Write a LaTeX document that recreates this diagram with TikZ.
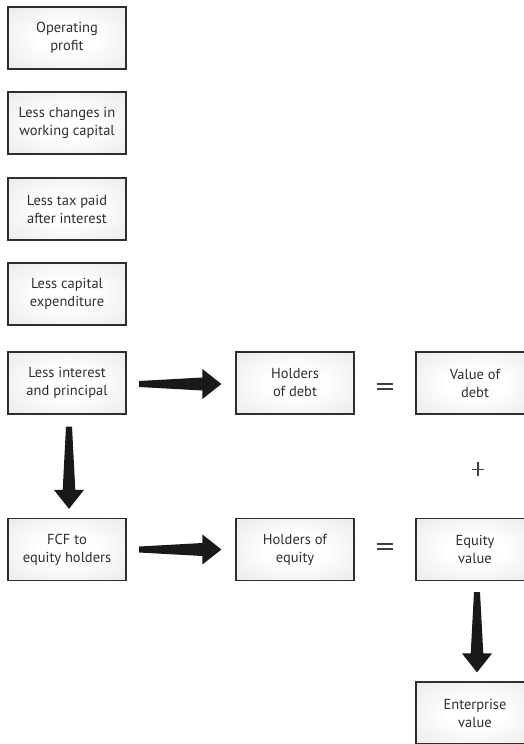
\documentclass[tikz,border=0pt]{standalone}
\usepackage{fontspec}
\setmainfont{PT Sans}
\usetikzlibrary{calc}

% soft glow used to fill the boxes
\pgfdeclareradialshading{boxglow}{\pgfpoint{0bp}{0bp}}{%
  color(0bp)=(white); color(12bp)=(white);
  color(50bp)=(black!13); color(71bp)=(black!21)}

% tapered block arrows, running right or down from #1 to the tip #2
\newcommand\rightblock[2]{%
  \fill[blockarrow] let \p1=(#1), \p2=(#2) in
    (\x1,\y1+3pt) -- (\x2-19pt,\y1+6.5pt) -- (\x2-19pt,\y1+15pt) --
    (\x2,\y1) -- (\x2-19pt,\y1-15pt) -- (\x2-19pt,\y1-6.5pt) --
    (\x1,\y1-3pt) -- cycle;}
\newcommand\downblock[2]{%
  \fill[blockarrow] let \p1=(#1), \p2=(#2) in
    (\x1-3pt,\y1) -- (\x1-6.3pt,\y2+19pt) -- (\x1-15pt,\y2+19pt) --
    (\x1,\y2) -- (\x1+15pt,\y2+19pt) -- (\x1+6.3pt,\y2+19pt) --
    (\x1+3pt,\y1) -- cycle;}

\begin{document}
\begin{tikzpicture}[x=1pt,y=-1pt,
  stepbox/.style={draw=black!82, line width=1.2pt, shading=boxglow,
    minimum width=118pt, minimum height=62pt, inner sep=0pt,
    align=center, text=black!82,
    font=\fontsize{14.5}{18}\selectfont},
  blockarrow/.style={fill=black!90},
  sign/.style={draw=black!75, line width=1.6pt}]
\useasboundingbox (0,0) rectangle (524,744);
\clip (0,0) rectangle (524,744);

% left column: from operating profit down to free cash flow
\node[stepbox] (op)  at (67,38)    {Operating\\profit};
\node[stepbox] (wc)  at (67,123)   {Less changes in\\working capital};
\node[stepbox] (tax) at (67,209)   {Less tax paid\\after interest};
\node[stepbox] (cap) at (67,294)   {Less capital\\expenditure};
\node[stepbox] (int) at (67,383)   {Less interest\\and principal};
\node[stepbox] (fcf) at (67,549.5) {FCF to\\equity holders};

% middle column: who receives the cash
\node[stepbox] (hd) at (295,383)   {Holders\\of debt};
\node[stepbox] (he) at (295,549.5) {Holders of\\equity};

% right column: the values
\node[stepbox] (vd) at (475,383)   {Value of\\debt};
\node[stepbox] (ev) at (475,549.5) {Equity\\value};
\node[stepbox] (en) at (475,713)   {Enterprise\\value};

% block arrows between the boxes
\rightblock{$(int.east)+(12.5,1)$}{$(hd.west)+(-14,1)$}
\rightblock{$(fcf.east)+(12.5,0)$}{$(he.west)+(-14,0)$}
\downblock{$(int.south)+(2,12)$}{$(fcf.north)+(2,-9)$}
\downblock{$(ev.south)+(2,11)$}{$(en.north)+(2,-9)$}

% equals and plus signs
\coordinate (eqa) at ($(hd.east)!0.5!(vd.west)$);
\coordinate (eqb) at ($(he.east)!0.5!(ev.west)$);
\draw[sign] ($(eqa)+(-8,1.2)$) -- ($(eqa)+(8,1.2)$);
\draw[sign] ($(eqa)+(-8,6)$) -- ($(eqa)+(8,6)$);
\draw[sign] ($(eqb)+(-8,-5.5)$) -- ($(eqb)+(8,-5.5)$);
\draw[sign] ($(eqb)+(-8,-0.5)$) -- ($(eqb)+(8,-0.5)$);
\coordinate (plus) at ($(vd.south)!0.5!(ev.north)+(3,3)$);
\draw[sign,line width=1.3pt] ($(plus)+(-6,0)$) -- ($(plus)+(6,0)$);
\draw[sign,line width=1.3pt] ($(plus)+(0,-7)$) -- ($(plus)+(0,7)$);
\end{tikzpicture}
\end{document}
